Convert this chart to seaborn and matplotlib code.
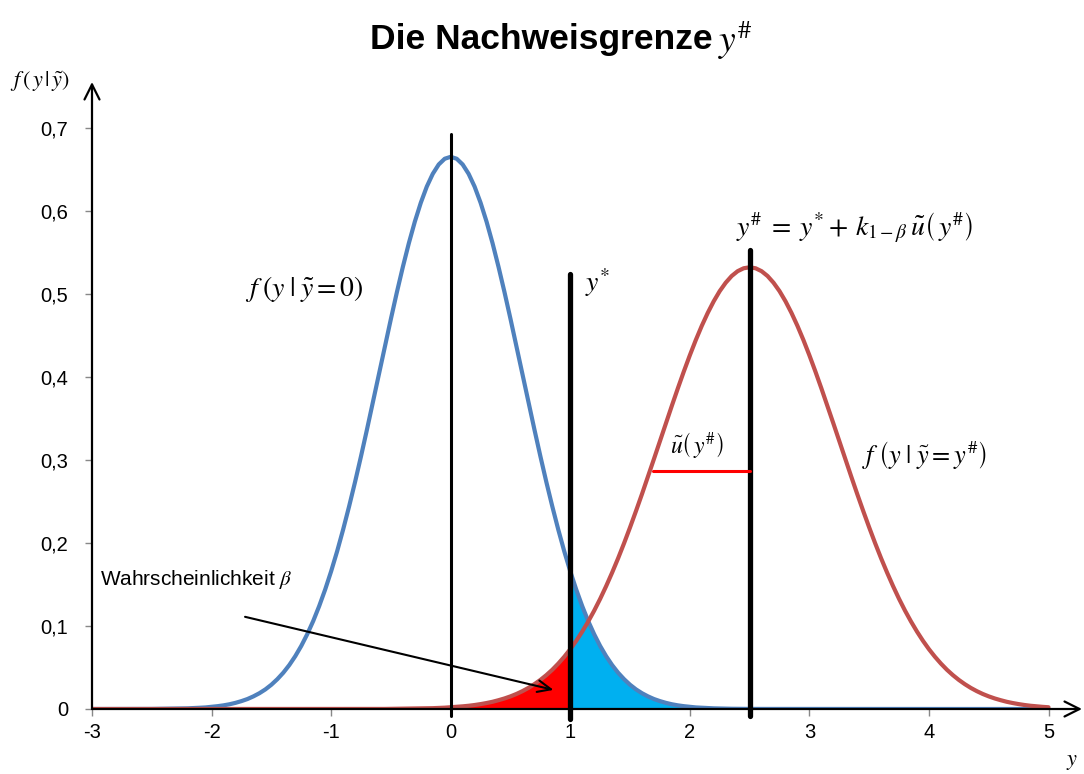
import numpy as np
import pandas as pd
import matplotlib
matplotlib.use("Agg")
import matplotlib.pyplot as plt
import seaborn as sns

# ---- data ----
y_grid = np.round(np.linspace(-3, 5, 161), 2)

# f(y | y~ = 0): blue curve
f_blank = ([0] * 9 + [
    0.0001, 0.0001, 0.0002, 0.0002, 0.0003, 0.0004, 0.0006, 0.0008, 0.0011, 0.0015,
    0.0019, 0.0026, 0.0034, 0.0044, 0.0057, 0.0074, 0.0095, 0.0120, 0.0152, 0.0190,
    0.0236, 0.0292, 0.0359, 0.0437, 0.0529, 0.0636, 0.0759, 0.0900, 0.1059, 0.1239,
    0.1438, 0.1658, 0.1898, 0.2159, 0.2438, 0.2733, 0.3044, 0.3367, 0.3698, 0.4033,
    0.4368, 0.4698, 0.5019, 0.5324, 0.5609, 0.5868, 0.6096, 0.6290, 0.6444, 0.6557,
    0.6626,
    0.6649,
    0.6626, 0.6557, 0.6444, 0.6290, 0.6096, 0.5868, 0.5609, 0.5324, 0.5019, 0.4698,
    0.4368, 0.4033, 0.3698, 0.3367, 0.3044, 0.2733, 0.2438, 0.2159, 0.1898, 0.1658,
    0.1438, 0.1239, 0.1059, 0.0900, 0.0759, 0.0636, 0.0529, 0.0437, 0.0359, 0.0292,
    0.0236, 0.0190, 0.0152, 0.0120, 0.0095, 0.0074, 0.0057, 0.0044, 0.0034, 0.0026,
    0.0019, 0.0015, 0.0011, 0.0008, 0.0006, 0.0004, 0.0003, 0.0002, 0.0002, 0.0001,
    0.0001] + [0] * 49)

# f(y | y~ = y#): red curve
f_limit = ([0] * 46 + [
    0.0001, 0.0001, 0.0001, 0.0001, 0.0002, 0.0002, 0.0003, 0.0004, 0.0005, 0.0006,
    0.0008, 0.0010, 0.0013, 0.0016, 0.0021, 0.0026, 0.0032, 0.0039, 0.0048, 0.0059,
    0.0072, 0.0087, 0.0106, 0.0127, 0.0152, 0.0181, 0.0215, 0.0254, 0.0299, 0.0350,
    0.0408, 0.0473, 0.0547, 0.0629, 0.0720, 0.0821, 0.0932, 0.1053, 0.1184, 0.1326,
    0.1479, 0.1642, 0.1814, 0.1996, 0.2187, 0.2385, 0.2589, 0.2799, 0.3011, 0.3226,
    0.3441, 0.3653, 0.3862, 0.4065, 0.4259, 0.4443, 0.4614, 0.4770, 0.4910, 0.5032,
    0.5133, 0.5214, 0.5272, 0.5307,
    0.5319,
    0.5307, 0.5272, 0.5214, 0.5133, 0.5032, 0.4910, 0.4770, 0.4614, 0.4443, 0.4259,
    0.4065, 0.3862, 0.3653, 0.3441, 0.3226, 0.3011, 0.2799, 0.2589, 0.2385, 0.2187,
    0.1996, 0.1814, 0.1642, 0.1479, 0.1326, 0.1184, 0.1053, 0.0932, 0.0821, 0.0720,
    0.0629, 0.0547, 0.0473, 0.0408, 0.0350, 0.0299, 0.0254, 0.0215, 0.0181, 0.0152,
    0.0127, 0.0106, 0.0087, 0.0072, 0.0059, 0.0048, 0.0039, 0.0032, 0.0026, 0.0021])

y_star = 1.0
y_hash = 2.5
mean_blank = 0.0
u_bar_start = 1.69
u_bar_level = 0.287

x_ticks = [-3, -2, -1, 0, 1, 2, 3, 4, 5]
x_ticklabels = ["-3", "-2", "-1", "0", "1", "2", "3", "4", "5"]
y_ticks = [0, 0.1, 0.2, 0.3, 0.4, 0.5, 0.6, 0.7]
y_ticklabels = ["0", "0,1", "0,2", "0,3", "0,4", "0,5", "0,6", "0,7"]

n = min(len(y_grid), len(f_blank), len(f_limit))
df = pd.DataFrame({"y": y_grid[:n], "blank": f_blank[:n], "limit": f_limit[:n]})

# ---- style ----
sns.set_theme(style="white")
plt.rcParams["font.family"] = ["Liberation Sans", "DejaVu Sans"]
plt.rcParams["mathtext.fontset"] = "stix"
plt.rcParams["text.color"] = "black"

BLUE = "#4F81BD"
RED = "#C0504D"

fig = plt.figure(figsize=(10.84, 7.74), dpi=100)
ax = fig.add_axes([92 / 1084, (774 - 709) / 774, (1082 - 92) / 1084, (709 - 82) / 774])

xlo, xhi = -3, 5.28
ylo, yhi = 0, 0.755
ax.set_xlim(xlo, xhi)
ax.set_ylim(ylo, yhi)

# fills
left = df["y"] <= y_star
right = df["y"] >= y_star
ax.fill_between(df["y"][left], df["limit"][left], 0, color="#FF0000", lw=0, zorder=1)
ax.fill_between(df["y"][right], df["blank"][right], 0, color="#00B0F0", lw=0, zorder=1)

# curves
sns.lineplot(data=df, x="y", y="blank", color=BLUE, lw=3.0, ax=ax, zorder=3)
sns.lineplot(data=df, x="y", y="limit", color=RED, lw=3.0, ax=ax, zorder=3)

# vertical markers
ax.plot([mean_blank, mean_blank], [-0.008, 0.692], color="black", lw=2.2, zorder=4, clip_on=False)
ax.plot([y_star, y_star], [-0.012, 0.524], color="black", lw=3.8, zorder=4, clip_on=False)
ax.plot([y_hash, y_hash], [-0.008, 0.553], color="black", lw=3.8, zorder=4, clip_on=False)

# u(y#) bar
ax.plot([u_bar_start, y_hash], [u_bar_level, u_bar_level], color="#FF0000", lw=2.2, zorder=4)

# axes
for s in ax.spines.values():
    s.set_visible(False)
arrow_kw = dict(arrowstyle="->,head_length=0.9,head_width=0.45", color="black", lw=1.6,
                shrinkA=0, shrinkB=0)
ax.annotate("", xy=(xlo, yhi), xytext=(xlo, 0), arrowprops=arrow_kw, annotation_clip=False, zorder=5)
ax.annotate("", xy=(xhi, 0), xytext=(xlo, 0), arrowprops=arrow_kw, annotation_clip=False, zorder=5)

ax.set_xticks(x_ticks)
ax.set_xticklabels(x_ticklabels, fontsize=14.5, color="black")
ax.set_yticks(y_ticks)
ax.set_yticklabels(y_ticklabels, fontsize=14.5, color="black")
ax.tick_params(axis="both", which="both", length=5, width=1, color="#888888", direction="out",
               bottom=True, left=True, pad=5)
ax.tick_params(axis="y", pad=12)
ax.set_xlabel("")
ax.set_ylabel("")
ax.grid(False)

# annotations
ax.text(-1.72, 0.506, r"$f\;\left(y\;|\;\tilde{y}=0\right)$", va="center", ha="left", fontsize=20)
ax.text(1.12, 0.514, r"$y^{*}$", va="center", ha="left", fontsize=20)
ax.text(2.39, 0.58, r"$y^{\#}\;=\;y^{*}+\,k_{1-\beta}\,\tilde{u}\left(\,y^{\#}\right)$",
        va="center", ha="left", fontsize=20)
ax.text(1.83, 0.318, r"$\tilde{u}\left(\,y^{\#}\right)$", va="center", ha="left", fontsize=17)
ax.text(3.44, 0.306, r"$f\;\left(y\;|\;\tilde{y}=y^{\#}\right)$", va="center", ha="left", fontsize=19)

ax.text(-2.93, 0.156, r"Wahrscheinlichkeit $\beta$", va="center", ha="left", fontsize=15)
ax.annotate("", xy=(0.86, 0.023), xytext=(-1.72, 0.111),
            arrowprops=dict(arrowstyle="->,head_length=0.8,head_width=0.35", color="black", lw=1.5,
                            shrinkA=0, shrinkB=0), zorder=6)

fig.text(10 / 1084, 1 - 82 / 774, r"$f\,\left(\,y\,|\,\tilde{y}\right)$", fontsize=16, va="center", ha="left")
fig.text(1066 / 1084, 1 - 762 / 774, r"$y$", fontsize=16, va="center", ha="left")

fig.text(370 / 1084, 1 - 40 / 774, "Die Nachweisgrenze", fontsize=25.5, fontweight="bold",
         ha="left", va="center", color="black")
fig.text(718 / 1084, 1 - 40 / 774, r"$y^{\#}$", fontsize=27, ha="left", va="center", color="black")

fig.savefig("out.png", dpi=100)
